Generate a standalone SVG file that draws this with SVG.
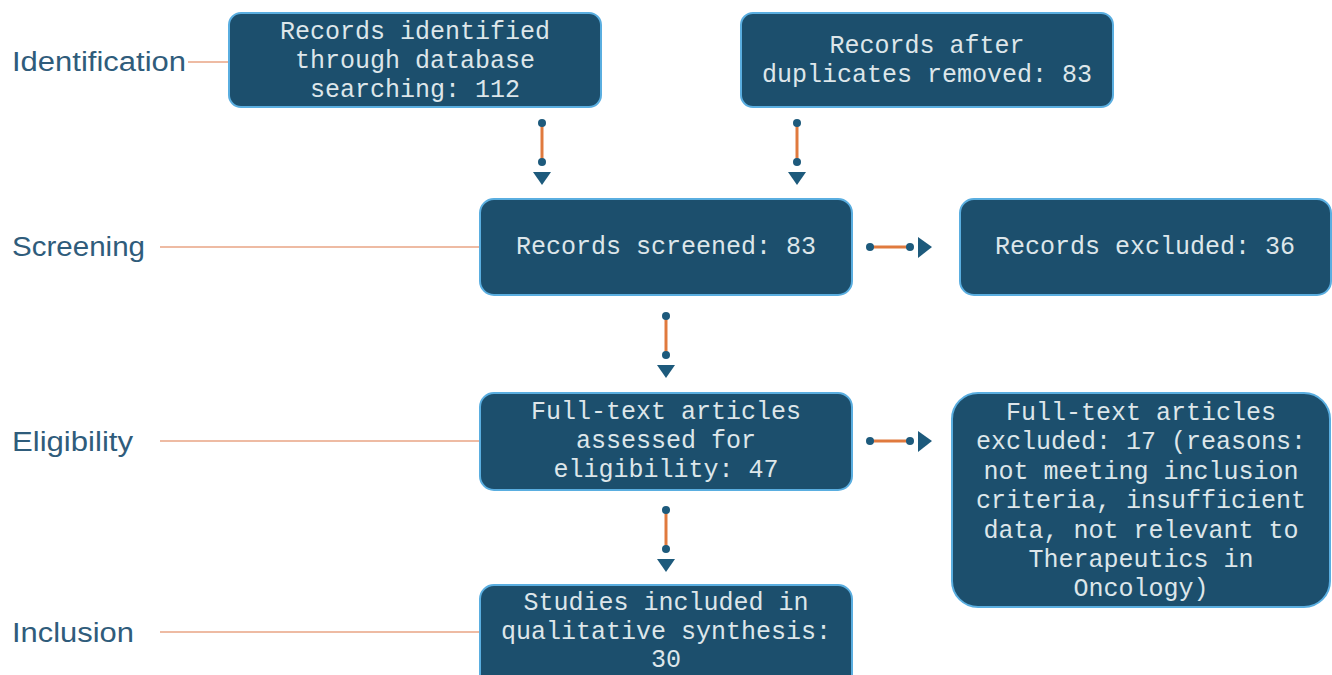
<svg xmlns="http://www.w3.org/2000/svg" width="1332" height="675" viewBox="0 0 1332 675">
<defs>
<style>
.box{fill:#1c4f6d;stroke:#5aaee0;stroke-width:2}
.bt{font-family:"Liberation Mono","Courier New",monospace;font-size:25px;fill:#dde6ea;text-anchor:middle}
.lab{font-family:"Liberation Sans",Arial,sans-serif;font-size:27px;fill:#2f5c7b}
.ll{stroke:#e8a585;stroke-width:1.5;fill:none}
.cl{stroke:#e07a3e;stroke-width:3;fill:none}
.dot{fill:#1d5a7c}
.tri{fill:#1d5a7c}
</style>
</defs>
<rect width="1332" height="675" fill="#ffffff"/>
<g id="stage-labels">
<text class="lab" x="12" y="71" textLength="174" lengthAdjust="spacingAndGlyphs">Identification</text>
<line class="ll" x1="188" y1="62" x2="229" y2="62"/>
<text class="lab" x="12" y="256" textLength="133" lengthAdjust="spacingAndGlyphs">Screening</text>
<line class="ll" x1="160" y1="247" x2="480" y2="247"/>
<text class="lab" x="12" y="451" textLength="121" lengthAdjust="spacingAndGlyphs">Eligibility</text>
<line class="ll" x1="160" y1="441" x2="480" y2="441"/>
<text class="lab" x="12" y="642" textLength="122" lengthAdjust="spacingAndGlyphs">Inclusion</text>
<line class="ll" x1="160" y1="632" x2="480" y2="632"/>
</g>
<g id="n-identified">
<rect class="box" x="229" y="13" width="372" height="94" rx="12"/>
<text class="bt" x="415" y="39">Records identified</text>
<text class="bt" x="415" y="68">through database</text>
<text class="bt" x="415" y="97">searching: 112</text>
</g>
<g id="n-duplicates">
<rect class="box" x="741" y="13" width="372" height="94" rx="12"/>
<text class="bt" x="927" y="53">Records after</text>
<text class="bt" x="927" y="82">duplicates removed: 83</text>
</g>
<g id="n-screened">
<rect class="box" x="480" y="199" width="372" height="96" rx="14"/>
<text class="bt" x="666" y="254">Records screened: 83</text>
</g>
<g id="n-excluded36">
<rect class="box" x="960" y="199" width="371" height="96" rx="14"/>
<text class="bt" x="1145" y="254">Records excluded: 36</text>
</g>
<g id="n-fulltext">
<rect class="box" x="480" y="393" width="372" height="97" rx="14"/>
<text class="bt" x="666" y="419">Full-text articles</text>
<text class="bt" x="666" y="448">assessed for</text>
<text class="bt" x="666" y="477">eligibility: 47</text>
</g>
<g id="n-excluded17">
<rect class="box" x="952" y="393" width="378" height="214" rx="26"/>
<text class="bt" x="1141" y="420">Full-text articles</text>
<text class="bt" x="1141" y="449">excluded: 17 (reasons:</text>
<text class="bt" x="1141" y="479">not meeting inclusion</text>
<text class="bt" x="1141" y="508">criteria, insufficient</text>
<text class="bt" x="1141" y="538">data, not relevant to</text>
<text class="bt" x="1141" y="567">Therapeutics in</text>
<text class="bt" x="1141" y="596">Oncology)</text>
</g>
<g id="n-included">
<rect class="box" x="480" y="585" width="372" height="110" rx="14"/>
<text class="bt" x="666" y="610">Studies included in</text>
<text class="bt" x="666" y="639">qualitative synthesis:</text>
<text class="bt" x="666" y="667">30</text>
</g>
<g id="connectors">
<g>
<line class="cl" x1="542" y1="126" x2="542" y2="160"/>
<circle class="dot" cx="542" cy="123" r="4"/>
<circle class="dot" cx="542" cy="162" r="4"/>
<polygon class="tri" points="533,172 551,172 542,185"/>
</g>
<g>
<line class="cl" x1="797" y1="126" x2="797" y2="160"/>
<circle class="dot" cx="797" cy="123" r="4"/>
<circle class="dot" cx="797" cy="162" r="4"/>
<polygon class="tri" points="788,172 806,172 797,185"/>
</g>
<g>
<line class="cl" x1="666" y1="319" x2="666" y2="353"/>
<circle class="dot" cx="666" cy="316" r="4"/>
<circle class="dot" cx="666" cy="355" r="4"/>
<polygon class="tri" points="657,365 675,365 666,378"/>
</g>
<g>
<line class="cl" x1="666" y1="513" x2="666" y2="547"/>
<circle class="dot" cx="666" cy="510" r="4"/>
<circle class="dot" cx="666" cy="549" r="4"/>
<polygon class="tri" points="657,559 675,559 666,572"/>
</g>
<g>
<line class="cl" x1="872" y1="247" x2="908" y2="247"/>
<circle class="dot" cx="870" cy="247" r="4"/>
<circle class="dot" cx="910" cy="247" r="4"/>
<polygon class="tri" points="918,237 918,258 932,247"/>
</g>
<g>
<line class="cl" x1="872" y1="441" x2="908" y2="441"/>
<circle class="dot" cx="870" cy="441" r="4"/>
<circle class="dot" cx="910" cy="441" r="4"/>
<polygon class="tri" points="918,431 918,452 932,441"/>
</g>
</g>
</svg>
